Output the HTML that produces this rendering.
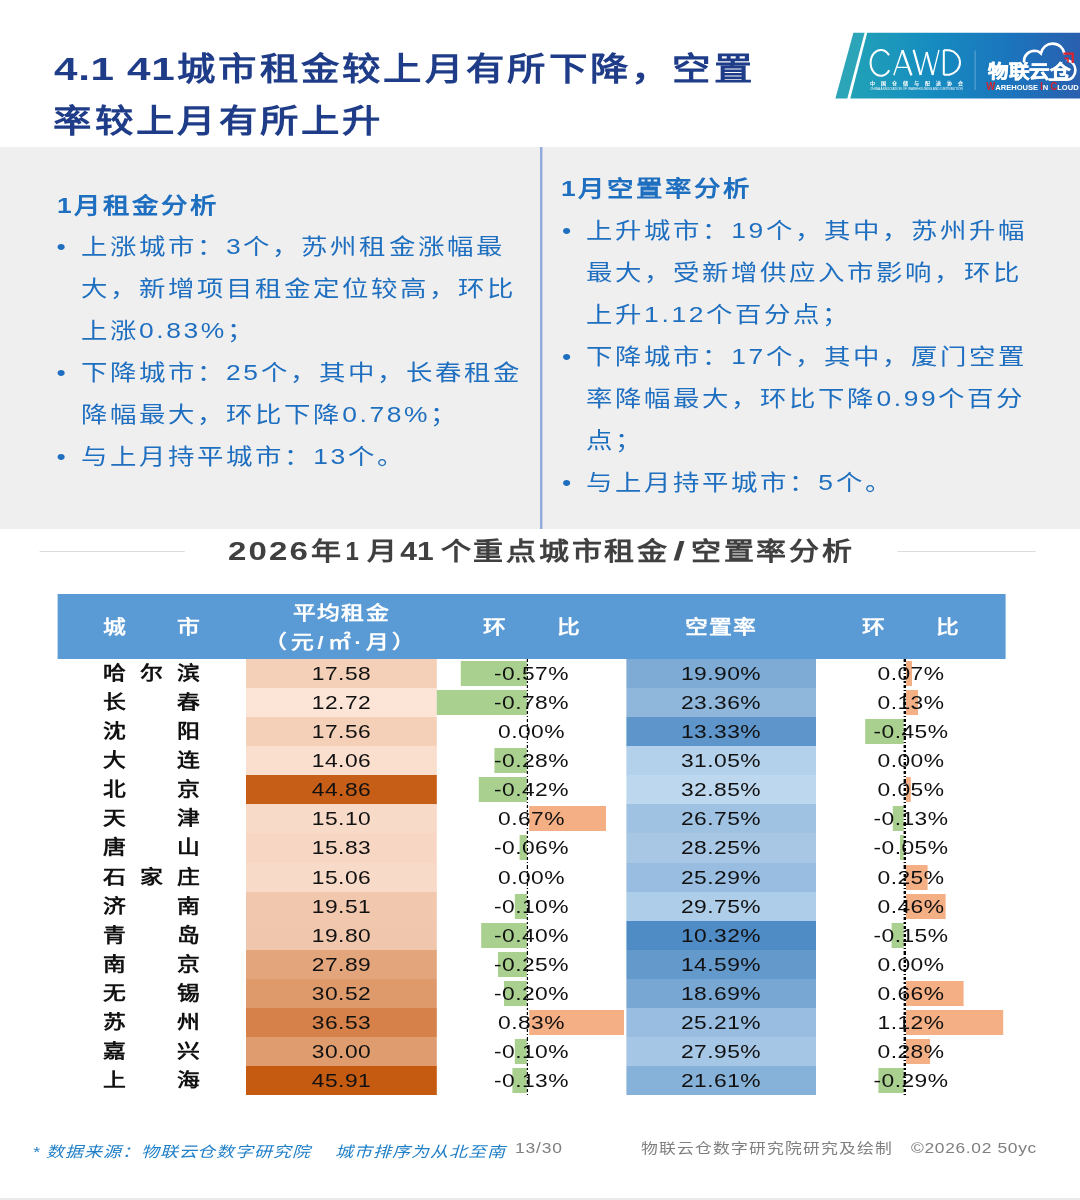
<!DOCTYPE html><html lang="zh-CN"><head><meta charset="utf-8"><title>slide</title><style>
html,body{margin:0;padding:0;background:#fff;}
body{width:1080px;height:1200px;overflow:hidden;font-family:"Liberation Sans",sans-serif;}
#pg{position:absolute;left:0;top:0;width:900px;height:1200px;transform:scaleX(1.2);transform-origin:0 0;overflow:hidden;background:#fff;will-change:transform;}
.abs{position:absolute;white-space:nowrap;}
.n{letter-spacing:0.1em;}
.title{top:43px;font-size:32px;line-height:52px;font-weight:bold;color:#1f3c88;letter-spacing:2.4px;}
.sx{transform-origin:0 50%;}
.panel{left:0;top:146.7px;width:900px;height:381.9px;background:#efefef;}
.divider{left:450.0px;top:147px;width:1.6px;height:381.8px;background:#8faadc;}
.h{font-size:22px;font-weight:bold;color:#1f6fc0;letter-spacing:2.1px;line-height:30px;}
.p{font-size:22px;color:#1f6fc0;letter-spacing:2.2px;line-height:42px;}
.bu{position:absolute;}
.sec{top:535px;font-size:25px;line-height:32px;font-weight:bold;color:#404040;letter-spacing:2.25px;}
.sec.d{letter-spacing:1.6px;transform:scaleX(1.1);}
.hl{height:1.5px;background:#dcdcdc;top:550.5px;}
.thead{background:#5b9bd5;}
.th{color:#fff;font-weight:bold;font-size:19px;line-height:26px;text-align:center;}
.dist{text-align:justify;text-align-last:justify;}
.cell .n{letter-spacing:0.02em;}
.cell{font-size:19px;letter-spacing:0;line-height:29.08px;text-align:center;color:#111;}
.city{font-weight:bold;color:#111;font-size:19px;line-height:29.08px;}
.foot{font-size:14px;color:#7f7f7f;letter-spacing:1.0px;line-height:20px;}
</style></head><body><div id="pg">
<div class="abs title sx" style="left:44.58px;letter-spacing:0.5px;transform:scaleX(1.1);">4.1 41</div>
<div class="abs title" style="left:147.5px;">城市租金较上月有所下降，空置</div>
<div class="abs title" style="left:44.58px;top:95px;">率较上月有所上升</div>
<svg class="abs" style="left:691.67px;top:25px;width:208.33px;height:80px;" viewBox="830 25 250 80" preserveAspectRatio="none" font-family="Liberation Sans, sans-serif">
<defs><linearGradient id="lg" x1="850" y1="0" x2="1080" y2="0" gradientUnits="userSpaceOnUse"><stop offset="0" stop-color="#21a2b7"/><stop offset="0.35" stop-color="#168cc0"/><stop offset="0.7" stop-color="#1b74bd"/><stop offset="1" stop-color="#2a5fae"/></linearGradient></defs>
<polygon points="853,32.8 864.2,32.8 846.9,98.4 835,98.4" fill="#2ba5b7"/>
<polygon points="866.8,32.8 1080,32.8 1080,98.4 849.9,98.4" fill="url(#lg)"/>
<g fill="none" stroke="#fff" stroke-width="1.6" stroke-linejoin="miter" stroke-linecap="butt">
<path d="M888.6,55.2 A10.2,12.9 0 1 0 888.8,70.2" stroke-width="2.1"/>
<path d="M893.4,75.3 L902,50.2" stroke-width="1.4"/><path d="M902,50.2 L911,75.3" stroke-width="2.4"/><path d="M896.6,67.4 H908" stroke-width="1.3"/>
<path d="M913.2,49.9 L920.2,75 M926.2,52 L932.4,75" stroke-width="2.2"/><path d="M920.2,75 L926.2,52 M932.4,75 L938.6,49.9" stroke-width="1.3"/>
<path d="M943.4,49.9 V75.1 M943.4,50.3 H949 A12.9,12.4 0 0 1 949,74.7 H943.4" stroke-width="2.0"/>
</g>
<text x="869.8" y="84.7" font-size="5" font-weight="bold" fill="#fff" textLength="92.5" lengthAdjust="spacing">中国仓储与配送协会</text>
<text x="869.8" y="89.6" font-size="3" fill="#fff" fill-opacity="0.95" textLength="92.5" lengthAdjust="spacingAndGlyphs">CHINA ASSOCIATION OF WAREHOUSING AND DISTRIBUTION</text>
<line x1="974.7" y1="50.5" x2="974.7" y2="90" stroke="#fff" stroke-opacity="0.4" stroke-width="0.8"/>
<text x="987.8" y="78.3" font-size="18" font-weight="bold" fill="#fff" stroke="#fff" stroke-width="0.6" textLength="82" lengthAdjust="spacingAndGlyphs">物联云仓</text>
<path d="M1023.6,61.5 C1023.4,55.5 1028,51 1034.2,50.8 C1037,50.8 1039,51.8 1040.5,53.4 C1042,47.5 1046.5,43.6 1052.3,43.6 C1058.5,43.6 1063,48 1064,53.6" fill="none" stroke="#fff" stroke-width="2.6" stroke-linecap="round"/>
<path d="M1067.5,60.4 C1072,61.5 1075,65.5 1075,70 C1075,75.5 1071.5,79.6 1066.5,79.6 L1049,79.6" fill="none" stroke="#fff" stroke-width="2.6" stroke-linecap="round"/>
<path d="M1063,53.6 H1072.3 V63" fill="none" stroke="#e3202b" stroke-width="2.2"/>
<path d="M1064,58.4 H1067.6 V62.8" fill="none" stroke="#e3202b" stroke-width="1.6"/>
<text x="985.9" y="89.9" font-size="8" font-weight="bold" fill="#fff" textLength="92.4" lengthAdjust="spacingAndGlyphs"><tspan fill="#d8202b" font-size="10">W</tspan>AREHOUSE <tspan fill="#d8202b" font-size="10">I</tspan>N <tspan fill="#d8202b" font-size="10">C</tspan>LOUD</text>
</svg>
<div class="abs panel"></div><div class="abs divider"></div>
<div class="abs h" style="left:47.5px;top:191px;"><span class="n">1</span>月租金分析</div>
<div class="abs p" style="left:47.0px;top:226px;">•</div>
<div class="abs p" style="left:67.33px;top:226px;">上涨城市：<span class="n">3</span>个，苏州租金涨幅最</div>
<div class="abs p" style="left:67.33px;top:268px;">大，新增项目租金定位较高，环比</div>
<div class="abs p" style="left:67.33px;top:310px;">上涨<span class="n">0.83%</span>；</div>
<div class="abs p" style="left:47.0px;top:352px;">•</div>
<div class="abs p" style="left:67.33px;top:352px;">下降城市：<span class="n">25</span>个，其中，长春租金</div>
<div class="abs p" style="left:67.33px;top:394px;">降幅最大，环比下降<span class="n">0.78%</span>；</div>
<div class="abs p" style="left:47.0px;top:436px;">•</div>
<div class="abs p" style="left:67.33px;top:436px;">与上月持平城市：<span class="n">13</span>个。</div>
<div class="abs h" style="left:467.5px;top:174px;"><span class="n">1</span>月空置率分析</div>
<div class="abs p" style="left:468.33px;top:210px;">•</div>
<div class="abs p" style="left:488.33px;top:210px;">上升城市：<span class="n">19</span>个，其中，苏州升幅</div>
<div class="abs p" style="left:488.33px;top:252px;">最大，受新增供应入市影响，环比</div>
<div class="abs p" style="left:488.33px;top:294px;">上升<span class="n">1.12</span>个百分点；</div>
<div class="abs p" style="left:468.33px;top:336px;">•</div>
<div class="abs p" style="left:488.33px;top:336px;">下降城市：<span class="n">17</span>个，其中，厦门空置</div>
<div class="abs p" style="left:488.33px;top:378px;">率降幅最大，环比下降<span class="n">0.99</span>个百分</div>
<div class="abs p" style="left:488.33px;top:420px;">点；</div>
<div class="abs p" style="left:468.33px;top:462px;">•</div>
<div class="abs p" style="left:488.33px;top:462px;">与上月持平城市：<span class="n">5</span>个。</div>
<div class="abs sec sx d" style="left:190.42px;">2026</div>
<div class="abs sec" style="left:259.08px;">年</div>
<div class="abs sec sx d" style="left:288.33px;transform:scaleX(0.8);">1</div>
<div class="abs sec" style="left:305.5px;">月</div>
<div class="abs sec sx d" style="left:333.58px;transform:none;letter-spacing:0;">41</div>
<div class="abs sec" style="left:367.25px;">个重点城市租金</div>
<div class="abs sec sx d" style="left:560.83px;transform:scaleX(1.4);">/</div>
<div class="abs sec" style="left:575.75px;">空置率分析</div>
<div class="abs hl" style="left:33.33px;width:120.83px;"></div>
<div class="abs hl" style="left:747.5px;width:115.0px;"></div>
<div class="abs thead" style="left:47.5px;top:594px;width:790.83px;height:65.0px;"></div>
<div class="abs th dist" style="left:85.83px;top:614.5px;width:80.83px;">城市</div>
<div class="abs th" style="left:205.0px;top:598.7px;width:159.17px;letter-spacing:1.2px;line-height:29.5px;">平均租金<br><span style="letter-spacing:3.2px;">（元/㎡·月）</span></div>
<div class="abs th dist" style="left:402.5px;top:614.5px;width:80.83px;">环比</div>
<div class="abs th" style="left:521.67px;top:614.5px;width:158.33px;letter-spacing:1.2px;">空置率</div>
<div class="abs th dist" style="left:718.33px;top:614.5px;width:80.83px;">环比</div>
<div class="abs city dist" style="left:85.83px;top:659.0px;width:80.83px;">哈尔滨</div>
<div class="abs cell" style="left:205.0px;top:659.0px;width:159.17px;height:29.38px;background:#f4d0b9;"><span class="n">17.58</span></div>
<div class="abs" style="left:384.37px;top:661.0px;width:54.62px;height:24.98px;background:#a9d08e;"></div>
<div class="abs cell" style="left:364.17px;top:659.0px;width:157.5px;"><span class="n">-0.57%</span></div>
<div class="abs cell" style="left:521.67px;top:659.0px;width:158.33px;height:29.38px;background:#7eabd6;"><span class="n">19.90%</span></div>
<div class="abs" style="left:755.17px;top:661.0px;width:5.05px;height:24.98px;background:#f4b084;"></div>
<div class="abs cell" style="left:680.0px;top:659.0px;width:158.33px;"><span class="n">0.07%</span></div>
<div class="abs city dist" style="left:85.83px;top:688.08px;width:80.83px;">长春</div>
<div class="abs cell" style="left:205.0px;top:688.08px;width:159.17px;height:29.38px;background:#fce4d6;"><span class="n">12.72</span></div>
<div class="abs" style="left:364.25px;top:690.08px;width:74.75px;height:24.98px;background:#a9d08e;"></div>
<div class="abs cell" style="left:364.17px;top:688.08px;width:157.5px;"><span class="n">-0.78%</span></div>
<div class="abs cell" style="left:521.67px;top:688.08px;width:158.33px;height:29.38px;background:#8fb7dc;"><span class="n">23.36%</span></div>
<div class="abs" style="left:755.17px;top:690.08px;width:9.37px;height:24.98px;background:#f4b084;"></div>
<div class="abs cell" style="left:680.0px;top:688.08px;width:158.33px;"><span class="n">0.13%</span></div>
<div class="abs city dist" style="left:85.83px;top:717.16px;width:80.83px;">沈阳</div>
<div class="abs cell" style="left:205.0px;top:717.16px;width:159.17px;height:29.38px;background:#f4d0b9;"><span class="n">17.56</span></div>
<div class="abs cell" style="left:364.17px;top:717.16px;width:157.5px;"><span class="n">0.00%</span></div>
<div class="abs cell" style="left:521.67px;top:717.16px;width:158.33px;height:29.38px;background:#5e95ca;"><span class="n">13.33%</span></div>
<div class="abs" style="left:720.9px;top:719.16px;width:32.44px;height:24.98px;background:#a9d08e;"></div>
<div class="abs cell" style="left:680.0px;top:717.16px;width:158.33px;"><span class="n">-0.45%</span></div>
<div class="abs city dist" style="left:85.83px;top:746.24px;width:80.83px;">大连</div>
<div class="abs cell" style="left:205.0px;top:746.24px;width:159.17px;height:29.38px;background:#fadece;"><span class="n">14.06</span></div>
<div class="abs" style="left:412.17px;top:748.24px;width:26.83px;height:24.98px;background:#a9d08e;"></div>
<div class="abs cell" style="left:364.17px;top:746.24px;width:157.5px;"><span class="n">-0.28%</span></div>
<div class="abs cell" style="left:521.67px;top:746.24px;width:158.33px;height:29.38px;background:#b4d1eb;"><span class="n">31.05%</span></div>
<div class="abs cell" style="left:680.0px;top:746.24px;width:158.33px;"><span class="n">0.00%</span></div>
<div class="abs city dist" style="left:85.83px;top:775.32px;width:80.83px;">北京</div>
<div class="abs cell" style="left:205.0px;top:775.32px;width:159.17px;height:29.38px;background:#c75e17;"><span class="n">44.86</span></div>
<div class="abs" style="left:398.75px;top:777.32px;width:40.25px;height:24.98px;background:#a9d08e;"></div>
<div class="abs cell" style="left:364.17px;top:775.32px;width:157.5px;"><span class="n">-0.42%</span></div>
<div class="abs cell" style="left:521.67px;top:775.32px;width:158.33px;height:29.38px;background:#bdd7ee;"><span class="n">32.85%</span></div>
<div class="abs" style="left:755.17px;top:777.32px;width:3.6px;height:24.98px;background:#f4b084;"></div>
<div class="abs cell" style="left:680.0px;top:775.32px;width:158.33px;"><span class="n">0.05%</span></div>
<div class="abs city dist" style="left:85.83px;top:804.4px;width:80.83px;">天津</div>
<div class="abs cell" style="left:205.0px;top:804.4px;width:159.17px;height:29.38px;background:#f8dac8;"><span class="n">15.10</span></div>
<div class="abs" style="left:440.67px;top:806.4px;width:64.21px;height:24.98px;background:#f4b084;"></div>
<div class="abs cell" style="left:364.17px;top:804.4px;width:157.5px;"><span class="n">0.67%</span></div>
<div class="abs cell" style="left:521.67px;top:804.4px;width:158.33px;height:29.38px;background:#9fc2e3;"><span class="n">26.75%</span></div>
<div class="abs" style="left:743.96px;top:806.4px;width:9.37px;height:24.98px;background:#a9d08e;"></div>
<div class="abs cell" style="left:680.0px;top:804.4px;width:158.33px;"><span class="n">-0.13%</span></div>
<div class="abs city dist" style="left:85.83px;top:833.48px;width:80.83px;">唐山</div>
<div class="abs cell" style="left:205.0px;top:833.48px;width:159.17px;height:29.38px;background:#f7d7c4;"><span class="n">15.83</span></div>
<div class="abs" style="left:433.25px;top:835.48px;width:5.75px;height:24.98px;background:#a9d08e;"></div>
<div class="abs cell" style="left:364.17px;top:833.48px;width:157.5px;"><span class="n">-0.06%</span></div>
<div class="abs cell" style="left:521.67px;top:833.48px;width:158.33px;height:29.38px;background:#a7c7e5;"><span class="n">28.25%</span></div>
<div class="abs" style="left:749.73px;top:835.48px;width:3.6px;height:24.98px;background:#a9d08e;"></div>
<div class="abs cell" style="left:680.0px;top:833.48px;width:158.33px;"><span class="n">-0.05%</span></div>
<div class="abs city dist" style="left:85.83px;top:862.56px;width:80.83px;">石家庄</div>
<div class="abs cell" style="left:205.0px;top:862.56px;width:159.17px;height:29.38px;background:#f8dac8;"><span class="n">15.06</span></div>
<div class="abs cell" style="left:364.17px;top:862.56px;width:157.5px;"><span class="n">0.00%</span></div>
<div class="abs cell" style="left:521.67px;top:862.56px;width:158.33px;height:29.38px;background:#98bde0;"><span class="n">25.29%</span></div>
<div class="abs" style="left:755.17px;top:864.56px;width:18.02px;height:24.98px;background:#f4b084;"></div>
<div class="abs cell" style="left:680.0px;top:862.56px;width:158.33px;"><span class="n">0.25%</span></div>
<div class="abs city dist" style="left:85.83px;top:891.64px;width:80.83px;">济南</div>
<div class="abs cell" style="left:205.0px;top:891.64px;width:159.17px;height:29.38px;background:#f1c8ae;"><span class="n">19.51</span></div>
<div class="abs" style="left:429.42px;top:893.64px;width:9.58px;height:24.98px;background:#a9d08e;"></div>
<div class="abs cell" style="left:364.17px;top:891.64px;width:157.5px;"><span class="n">-0.10%</span></div>
<div class="abs cell" style="left:521.67px;top:891.64px;width:158.33px;height:29.38px;background:#aecde8;"><span class="n">29.75%</span></div>
<div class="abs" style="left:755.17px;top:893.64px;width:33.16px;height:24.98px;background:#f4b084;"></div>
<div class="abs cell" style="left:680.0px;top:891.64px;width:158.33px;"><span class="n">0.46%</span></div>
<div class="abs city dist" style="left:85.83px;top:920.72px;width:80.83px;">青岛</div>
<div class="abs cell" style="left:205.0px;top:920.72px;width:159.17px;height:29.38px;background:#f0c7ac;"><span class="n">19.80</span></div>
<div class="abs" style="left:400.67px;top:922.72px;width:38.33px;height:24.98px;background:#a9d08e;"></div>
<div class="abs cell" style="left:364.17px;top:920.72px;width:157.5px;"><span class="n">-0.40%</span></div>
<div class="abs cell" style="left:521.67px;top:920.72px;width:158.33px;height:29.38px;background:#4f8bc4;"><span class="n">10.32%</span></div>
<div class="abs" style="left:742.52px;top:922.72px;width:10.81px;height:24.98px;background:#a9d08e;"></div>
<div class="abs cell" style="left:680.0px;top:920.72px;width:158.33px;"><span class="n">-0.15%</span></div>
<div class="abs city dist" style="left:85.83px;top:949.8px;width:80.83px;">南京</div>
<div class="abs cell" style="left:205.0px;top:949.8px;width:159.17px;height:29.38px;background:#e3a57c;"><span class="n">27.89</span></div>
<div class="abs" style="left:415.04px;top:951.8px;width:23.96px;height:24.98px;background:#a9d08e;"></div>
<div class="abs cell" style="left:364.17px;top:949.8px;width:157.5px;"><span class="n">-0.25%</span></div>
<div class="abs cell" style="left:521.67px;top:949.8px;width:158.33px;height:29.38px;background:#6499cc;"><span class="n">14.59%</span></div>
<div class="abs cell" style="left:680.0px;top:949.8px;width:158.33px;"><span class="n">0.00%</span></div>
<div class="abs city dist" style="left:85.83px;top:978.88px;width:80.83px;">无锡</div>
<div class="abs cell" style="left:205.0px;top:978.88px;width:159.17px;height:29.38px;background:#df9a6c;"><span class="n">30.52</span></div>
<div class="abs" style="left:419.83px;top:980.88px;width:19.17px;height:24.98px;background:#a9d08e;"></div>
<div class="abs cell" style="left:364.17px;top:978.88px;width:157.5px;"><span class="n">-0.20%</span></div>
<div class="abs cell" style="left:521.67px;top:978.88px;width:158.33px;height:29.38px;background:#78a7d4;"><span class="n">18.69%</span></div>
<div class="abs" style="left:755.17px;top:980.88px;width:47.58px;height:24.98px;background:#f4b084;"></div>
<div class="abs cell" style="left:680.0px;top:978.88px;width:158.33px;"><span class="n">0.66%</span></div>
<div class="abs city dist" style="left:85.83px;top:1007.96px;width:80.83px;">苏州</div>
<div class="abs cell" style="left:205.0px;top:1007.96px;width:159.17px;height:29.38px;background:#d58149;"><span class="n">36.53</span></div>
<div class="abs" style="left:440.67px;top:1009.96px;width:79.54px;height:24.98px;background:#f4b084;"></div>
<div class="abs cell" style="left:364.17px;top:1007.96px;width:157.5px;"><span class="n">0.83%</span></div>
<div class="abs cell" style="left:521.67px;top:1007.96px;width:158.33px;height:29.38px;background:#98bde0;"><span class="n">25.21%</span></div>
<div class="abs" style="left:755.17px;top:1009.96px;width:80.73px;height:24.98px;background:#f4b084;"></div>
<div class="abs cell" style="left:680.0px;top:1007.96px;width:158.33px;"><span class="n">1.12%</span></div>
<div class="abs city dist" style="left:85.83px;top:1037.04px;width:80.83px;">嘉兴</div>
<div class="abs cell" style="left:205.0px;top:1037.04px;width:159.17px;height:29.38px;background:#df9c6f;"><span class="n">30.00</span></div>
<div class="abs" style="left:429.42px;top:1039.04px;width:9.58px;height:24.98px;background:#a9d08e;"></div>
<div class="abs cell" style="left:364.17px;top:1037.04px;width:157.5px;"><span class="n">-0.10%</span></div>
<div class="abs cell" style="left:521.67px;top:1037.04px;width:158.33px;height:29.38px;background:#a5c6e5;"><span class="n">27.95%</span></div>
<div class="abs" style="left:755.17px;top:1039.04px;width:20.18px;height:24.98px;background:#f4b084;"></div>
<div class="abs cell" style="left:680.0px;top:1037.04px;width:158.33px;"><span class="n">0.28%</span></div>
<div class="abs city dist" style="left:85.83px;top:1066.12px;width:80.83px;">上海</div>
<div class="abs cell" style="left:205.0px;top:1066.12px;width:159.17px;height:29.38px;background:#c55a11;"><span class="n">45.91</span></div>
<div class="abs" style="left:426.54px;top:1068.12px;width:12.46px;height:24.98px;background:#a9d08e;"></div>
<div class="abs cell" style="left:364.17px;top:1066.12px;width:157.5px;"><span class="n">-0.13%</span></div>
<div class="abs cell" style="left:521.67px;top:1066.12px;width:158.33px;height:29.38px;background:#86b1d9;"><span class="n">21.61%</span></div>
<div class="abs" style="left:732.43px;top:1068.12px;width:20.9px;height:24.98px;background:#a9d08e;"></div>
<div class="abs cell" style="left:680.0px;top:1066.12px;width:158.33px;"><span class="n">-0.29%</span></div>
<div class="abs" style="left:439.0px;top:659.0px;width:1.3px;height:436.20000000000005px;background:repeating-linear-gradient(to bottom,#000 0,#000 3.2px,transparent 3.2px,transparent 5.2px,#000 5.2px,#000 6.6px,transparent 6.6px,transparent 8.6px);"></div>
<div class="abs" style="left:753.33px;top:659.0px;width:1.3px;height:436.20000000000005px;background:repeating-linear-gradient(to bottom,#000 0,#000 3.2px,transparent 3.2px,transparent 5.2px,#000 5.2px,#000 6.6px,transparent 6.6px,transparent 8.6px);"></div>
<div class="abs foot" style="left:27.08px;top:1142px;color:#1f7fc7;font-style:italic;font-size:15px;letter-spacing:0.75px;">* 数据来源：物联云仓数字研究院</div>
<div class="abs foot" style="left:279.58px;top:1142px;color:#1f7fc7;font-style:italic;font-size:15px;letter-spacing:0.75px;">城市排序为从北至南</div>
<div class="abs foot" style="left:429.17px;top:1138px;font-size:14.5px;letter-spacing:0.7px;">13/30</div>
<div class="abs foot" style="left:534.17px;top:1138px;">物联云仓数字研究院研究及绘制</div>
<div class="abs foot" style="left:759.17px;top:1138px;font-size:14.5px;letter-spacing:0.55px;">©2026.02 50yc</div>
<div class="abs" style="left:0;top:1198.4px;width:900px;height:1.6px;background:#ebebeb;"></div>
</div></body></html>
